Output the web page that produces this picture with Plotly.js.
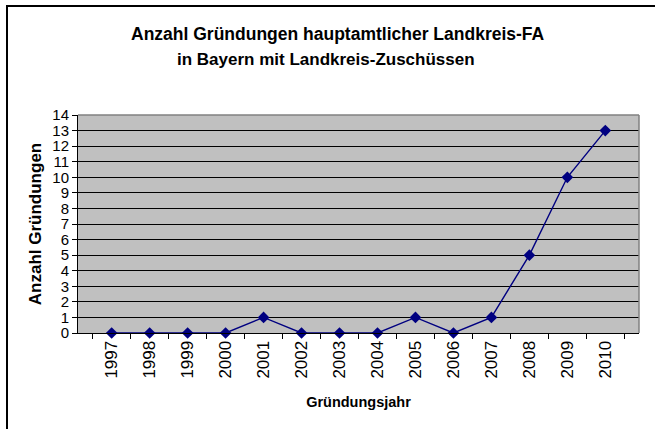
<!DOCTYPE html>
<html>
<head>
<meta charset="utf-8">
<script src="https://cdn.plot.ly/plotly-3.0.1.min.js"></script>
<style>
  body { margin: 0; padding: 0; background: #fff; overflow: hidden; }
  #chart { width: 655px; height: 429px; position: absolute; left: 0; top: 0; }
  #frame { position: absolute; left: 6px; top: 5px; width: 700px; height: 500px;
           border-left: 2px solid #000; border-top: 2px solid #000; pointer-events: none; }
</style>
</head>
<body>
<div id="chart"></div>
<div id="frame"></div>
<script>
const years = ["1997","1998","1999","2000","2001","2002","2003","2004","2005","2006","2007","2008","2009","2010"];
const counts = [0,0,0,0,1,0,0,0,1,0,1,5,10,13];
const titleLine1 = "Anzahl Gründungen hauptamtlicher Landkreis-FA";
const titleLine2 = "in Bayern mit Landkreis-Zuschüssen";
const xTitle = "Gründungsjahr";
const yTitle = "Anzahl Gründungen";

const trace = {
  x: years, y: counts, type: 'scatter', mode: 'lines+markers',
  line: {color: '#000080', width: 1.4},
  marker: {symbol: 'diamond', size: 9, color: '#000080'},
  cliponaxis: false, hoverinfo: 'skip'
};

const layout = {
  width: 655, height: 429,
  margin: {l: 78, r: 16, t: 115, b: 96},
  paper_bgcolor: 'rgba(0,0,0,0)',
  plot_bgcolor: '#C0C0C0',
  showlegend: false,
  font: {family: 'Arial, "Liberation Sans", sans-serif', size: 15, color: '#000'},
  xaxis: {
    type: 'category', tickangle: -90, tickson: 'boundaries',
    ticks: 'outside', ticklen: 5, tickcolor: '#000',
    showline: true, linecolor: '#000', linewidth: 1,
    showgrid: false, zeroline: false,
    tickfont: {size: 17},
    title: {text: xTitle, font: {size: 14.5, weight: 'bold'}, standoff: 19}
  },
  yaxis: {
    range: [0, 14], dtick: 1, tick0: 0,
    ticks: 'outside', ticklen: 5, tickcolor: '#000',
    showline: true, linecolor: '#000', linewidth: 1,
    showgrid: true, gridcolor: '#000', gridwidth: 1,
    zeroline: false, tickfont: {size: 15},
    title: {text: yTitle, font: {size: 17, weight: 'bold'}, standoff: 6}
  },
  shapes: [
    {type: 'line', xref: 'paper', yref: 'paper', x0: 0, x1: 1, y0: 1, y1: 1, line: {color: '#808080', width: 1.5}, layer: 'above'},
    {type: 'line', xref: 'paper', yref: 'paper', x0: 1, x1: 1, y0: 0, y1: 1, line: {color: '#808080', width: 1.5}, layer: 'above'}
  ],
  annotations: [
    {text: titleLine1, xref: 'paper', yref: 'paper', x: 0.4643, y: 1.372, showarrow: false,
     xanchor: 'center', yanchor: 'middle', font: {size: 17.5, weight: 'bold'}},
    {text: titleLine2, xref: 'paper', yref: 'paper', x: 0.442, y: 1.255, showarrow: false,
     xanchor: 'center', yanchor: 'middle', font: {size: 17, weight: 'bold'}}
  ]
};

Plotly.newPlot('chart', [trace], layout, {staticPlot: true, displayModeBar: false});
</script>
</body>
</html>
